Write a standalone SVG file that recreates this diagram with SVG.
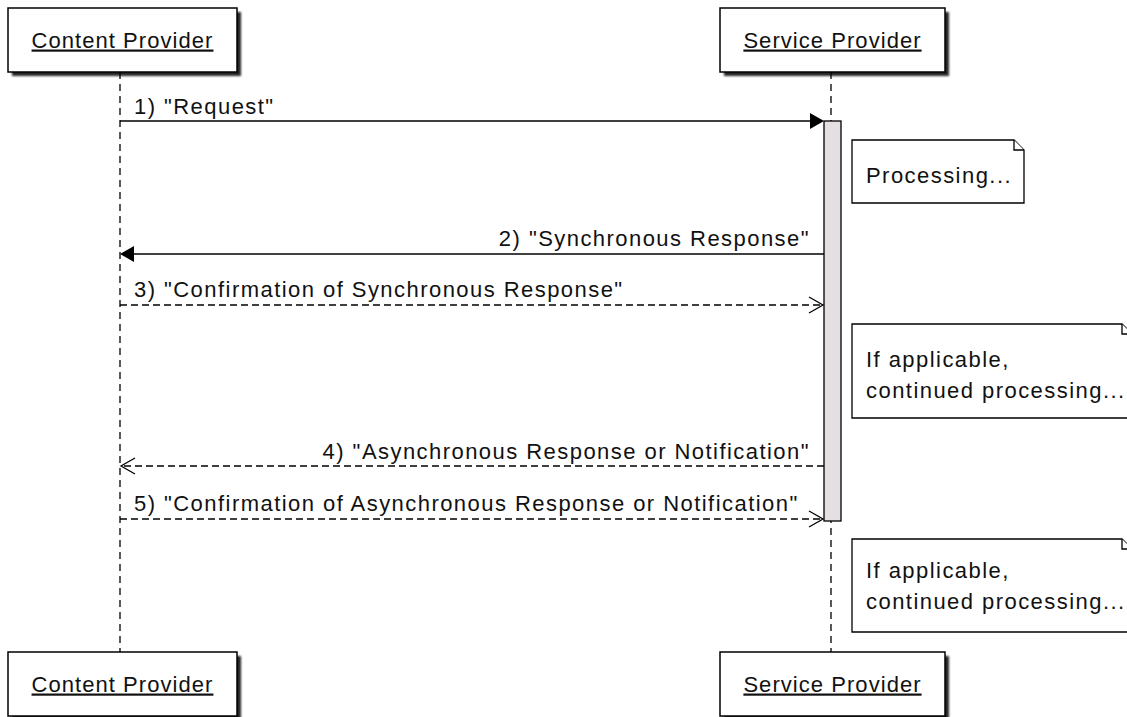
<svg xmlns="http://www.w3.org/2000/svg" width="1127" height="717" viewBox="0 0 1127 717">
<style>
text{font-family:"Liberation Sans",Arial,sans-serif;font-size:22px;fill:#111;letter-spacing:1.45px}
text.u{text-decoration:underline;letter-spacing:1.05px}
.box{fill:#fff;stroke:#000;stroke-width:1.5}
.shadow{fill:#000;opacity:0.85}
.life{stroke:#000;stroke-width:1.3;stroke-dasharray:7,5;fill:none}
.msg{stroke:#000;stroke-width:1.3;fill:none}
.dash{stroke-dasharray:7,4}
.note{fill:#fff;stroke:#000;stroke-width:1.3}
.act{fill:#e3dfe3;stroke:#000;stroke-width:1.3}
</style>
<defs>
<filter id="blur" x="-10%" y="-10%" width="130%" height="130%"><feGaussianBlur stdDeviation="0.8"/></filter>
</defs>
<g id="lifelines">
<line class="life" x1="120" y1="72" x2="120" y2="652"/>
<line class="life" x1="831" y1="72" x2="831" y2="652"/>
</g>
<g id="activation">
<rect class="act" x="824" y="121" width="17" height="400"/>
</g>
<g id="cp-top">
<rect class="shadow" x="12" y="12" width="229" height="64" filter="url(#blur)"/>
<rect class="box" x="8" y="8" width="229" height="64"/>
<text class="u" x="122.5" y="47.5" text-anchor="middle">Content Provider</text>
</g>
<g id="sp-top">
<rect class="shadow" x="724" y="12" width="225" height="64" filter="url(#blur)"/>
<rect class="box" x="720" y="8" width="225" height="64"/>
<text class="u" x="832.5" y="47.5" text-anchor="middle">Service Provider</text>
</g>
<g id="cp-bottom">
<rect class="shadow" x="12" y="656" width="229" height="64" filter="url(#blur)"/>
<rect class="box" x="8" y="652" width="229" height="64"/>
<text class="u" x="122.5" y="691.5" text-anchor="middle">Content Provider</text>
</g>
<g id="sp-bottom">
<rect class="shadow" x="724" y="656" width="225" height="64" filter="url(#blur)"/>
<rect class="box" x="720" y="652" width="225" height="64"/>
<text class="u" x="832.5" y="691.5" text-anchor="middle">Service Provider</text>
</g>
<g id="connectors">
<line class="msg" x1="120" y1="121" x2="812" y2="121"/>
<polygon points="824,121 810,113 810,129" fill="#000"/>
<text x="134" y="114">1) "Request"</text>
<line class="msg" x1="824" y1="254" x2="132" y2="254"/>
<polygon points="120,254 134,246 134,262" fill="#000"/>
<text x="810" y="246" text-anchor="end">2) "Synchronous Response"</text>
<line class="msg dash" x1="120" y1="305" x2="823" y2="305"/>
<polyline class="msg" points="809,297 823,305 809,313"/>
<text x="134" y="297">3) "Confirmation of Synchronous Response"</text>
<line class="msg dash" x1="824" y1="466" x2="121" y2="466"/>
<polyline class="msg" points="135,458 121,466 135,474"/>
<text x="810" y="459" text-anchor="end">4) "Asynchronous Response or Notification"</text>
<line class="msg dash" x1="120" y1="519" x2="823" y2="519"/>
<polyline class="msg" points="809,511 823,519 809,527"/>
<text x="134" y="511">5) "Confirmation of Asynchronous Response or Notification"</text>
</g>
<g id="note1">
<path class="note" d="M852,140 L1014,140 L1024,150 L1024,203 L852,203 Z"/>
<path class="note" d="M1014,140 L1014,150 L1024,150" fill="none"/>
<text x="866" y="183">Processing...</text>
</g>
<g id="note2">
<path class="note" d="M852,324 L1122,324 L1132,334 L1132,418 L852,418 Z"/>
<path class="note" d="M1122,324 L1122,334 L1132,334" fill="none"/>
<text x="866" y="367">If applicable,</text>
<text x="866" y="398">continued processing...</text>
</g>
<g id="note3">
<path class="note" d="M852,539 L1122,539 L1132,549 L1132,632 L852,632 Z"/>
<path class="note" d="M1122,539 L1122,549 L1132,549" fill="none"/>
<text x="866" y="578">If applicable,</text>
<text x="866" y="609">continued processing...</text>
</g>
</svg>
